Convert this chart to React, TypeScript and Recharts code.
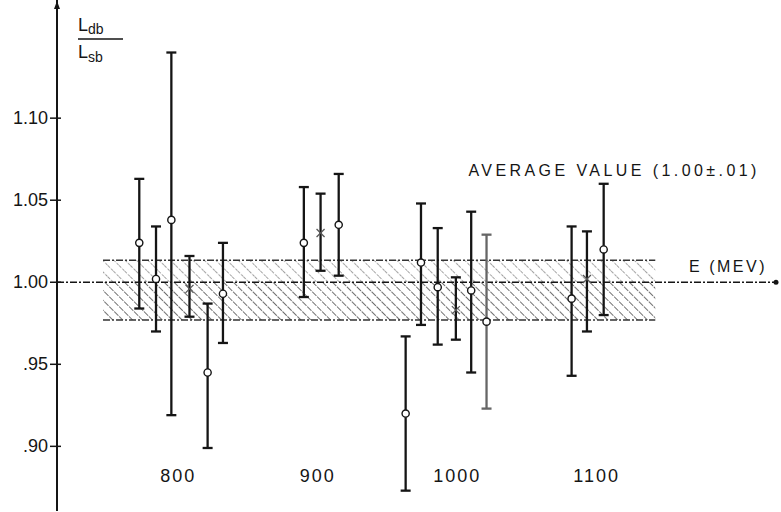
import React from 'react';
import { ComposedChart, Scatter, ErrorBar, XAxis, YAxis, ReferenceLine, ReferenceArea, ReferenceDot } from 'recharts';

// measured points: energy (MeV), ratio L_db/L_sb, error bar ends, marker type
const energies = [772, 784, 795, 808, 821, 832, 890, 902, 915, 963, 974, 986, 999, 1010, 1021, 1082, 1093, 1105];
const ratios = [1.024, 1.002, 1.038, 0.996, 0.945, 0.993, 1.024, 1.030, 1.035, 0.920, 1.012, 0.997, 0.983, 0.995, 0.976, 0.990, 1.002, 1.020];
const upperEnds = [1.063, 1.034, 1.140, 1.016, 0.987, 1.024, 1.058, 1.054, 1.066, 0.967, 1.048, 1.033, 1.003, 1.043, 1.029, 1.034, 1.031, 1.060];
const lowerEnds = [0.984, 0.970, 0.919, 0.979, 0.899, 0.963, 0.991, 1.007, 1.004, 0.873, 0.974, 0.962, 0.965, 0.945, 0.923, 0.943, 0.970, 0.980];
const markers = ['o', 'o', 'o', 'x', 'o', 'o', 'o', 'x', 'o', 'o', 'o', 'o', 'x', 'o', 'o', 'o', 'x', 'o'];
const faded = [false, false, false, false, false, false, false, false, false, false, false, false, false, false, true, false, false, false];

const xTicks = [800, 900, 1000, 1100];
const yTicks = [0.9, 0.95, 1.0, 1.05, 1.1];
const yTickLabels = ['.90', '.95', '1.00', '1.05', '1.10'];

// average band (1.00 ± .01)
const bandStart = 746;
const bandEnd = 1142;
const bandLow = 0.977;
const bandMid = 1.0;
const bandHigh = 1.0134;

const xDomain = [713, 1230];
const yDomain = [0.8606, 1.172];

const points = energies.map((e, i) => ({
  e,
  v: ratios[i],
  err: [ratios[i] - lowerEnds[i], upperEnds[i] - ratios[i]],
  mark: markers[i],
  faded: faded[i],
}));
const darkPoints = points.filter((p) => !p.faded);
const grayPoints = points.filter((p) => p.faded);

const FONT = '"Liberation Sans", Arial, sans-serif';
const INK = '#151515';

const PointMark = (props: any) => {
  const { cx, cy, payload } = props;
  if (cx == null || cy == null) return null;
  if (payload.mark === 'x') {
    return (
      <g stroke="#555" strokeWidth={1.2}>
        <line x1={cx - 4} y1={cy - 4} x2={cx + 4} y2={cy + 4} />
        <line x1={cx - 4} y1={cy + 4} x2={cx + 4} y2={cy - 4} />
      </g>
    );
  }
  return <circle cx={cx} cy={cy} r={3.6} fill="#fff" stroke={INK} strokeWidth={1.4} />;
};

const YTick = ({ x, y, payload }: any) => {
  const idx = yTicks.indexOf(payload.value);
  return (
    <g>
      <line x1={x - 7} x2={x + 4} y1={y} y2={y} stroke={INK} strokeWidth={1.5} />
      <text x={x - 9} y={y} dy={6} textAnchor="end" fontSize={18} fontFamily={FONT} fill={INK}>
        {yTickLabels[idx]}
      </text>
    </g>
  );
};

const XTick = ({ x, y, payload }: any) => (
  <text x={x} y={y - 29} textAnchor="middle" fontSize={18} letterSpacing={2} fontFamily={FONT} fill={INK}>
    {payload.value}
  </text>
);

const RatioLabel = ({ viewBox }: any) => {
  const left = viewBox.x + viewBox.width + 21;
  return (
    <g fontFamily={FONT} fill={INK}>
      <text x={left} y={31} fontSize={18}>
        L<tspan fontSize={14} dy={3}>db</tspan>
      </text>
      <line x1={left} x2={left + 45} y1={39} y2={39} stroke={INK} strokeWidth={1.5} />
      <text x={left} y={58} fontSize={18}>
        L<tspan fontSize={14} dy={4}>sb</tspan>
      </text>
    </g>
  );
};

const AxisLabel = ({ viewBox }: any) => (
  <text
    x={viewBox.x + viewBox.width - 11}
    y={viewBox.y - 10}
    textAnchor="end"
    fontSize={16}
    letterSpacing={2.5}
    fontFamily={FONT}
    fill={INK}
  >
    E (MEV)
  </text>
);

const AverageLabel = ({ viewBox }: any) => (
  <text x={viewBox.x} y={viewBox.y} fontSize={16} fontFamily={FONT} fill={INK} textLength={288} lengthAdjust="spacing">
    AVERAGE VALUE (1.00±.01)
  </text>
);

const UpArrow = ({ cx, cy }: any) => <path d={`M${cx},${cy + 1} L${cx - 3},${cy + 9} L${cx + 3},${cy + 9} Z`} fill={INK} />;
const RightArrow = ({ cx, cy }: any) => <circle cx={cx - 2} cy={cy} r={2.5} fill={INK} />;

export default function App() {
  return (
    <div style={{ position: 'absolute', left: 0, top: 0, width: 781, height: 512, background: '#fff' }}>
      <ComposedChart width={781} height={512} margin={{ top: 0, right: 3, bottom: 0, left: 0 }}>
        <defs>
          <pattern id="hatchLight" width={8} height={8} patternUnits="userSpaceOnUse" patternTransform="rotate(-45)">
            <line x1={0} y1={0} x2={0} y2={8} stroke="#555" strokeWidth={1.1} strokeDasharray="3 1.5" />
          </pattern>
          <pattern id="hatchDark" width={7} height={7} patternUnits="userSpaceOnUse" patternTransform="rotate(-45)">
            <line x1={0} y1={0} x2={0} y2={7} stroke="#222" strokeWidth={1.3} strokeDasharray="6 1" />
          </pattern>
        </defs>
        <XAxis
          dataKey="e"
          type="number"
          domain={xDomain}
          ticks={xTicks}
          allowDataOverflow
          height={1}
          axisLine={false}
          tickLine={false}
          tickSize={0}
          tickMargin={0}
          tick={<XTick />}
        />
        <YAxis
          type="number"
          domain={yDomain}
          ticks={yTicks}
          allowDataOverflow
          width={57}
          axisLine={{ stroke: INK, strokeWidth: 2 }}
          tickLine={false}
          tickSize={0}
          tickMargin={0}
          tick={<YTick />}
          label={{ content: <RatioLabel /> }}
        />
        <ReferenceArea x1={bandStart} x2={bandEnd} y1={bandMid} y2={bandHigh} fill="url(#hatchLight)" fillOpacity={1} stroke="none" />
        <ReferenceArea x1={bandStart} x2={bandEnd} y1={bandLow} y2={bandMid} fill="url(#hatchDark)" fillOpacity={1} stroke="none" />
        <ReferenceLine segment={[{ x: bandStart, y: bandHigh }, { x: bandEnd, y: bandHigh }]} stroke="#333" strokeWidth={1.3} strokeDasharray="7 2 2 2" />
        <ReferenceLine segment={[{ x: bandStart, y: bandLow }, { x: bandEnd, y: bandLow }]} stroke="#333" strokeWidth={1.3} strokeDasharray="7 2 2 2" />
        <ReferenceLine y={1.0} stroke={INK} strokeWidth={1.5} strokeDasharray="7 2 2 2" label={{ content: <AxisLabel /> }} />
        <ReferenceDot x={1008} y={1.065} r={0} fill="none" stroke="none" label={{ content: <AverageLabel /> }} />
        <ReferenceDot x={xDomain[0]} y={yDomain[1]} shape={<UpArrow />} />
        <ReferenceDot x={xDomain[1]} y={1.0} shape={<RightArrow />} />
        <Scatter data={darkPoints} dataKey="v" shape={<PointMark />} isAnimationActive={false}>
          <ErrorBar dataKey="err" direction="y" width={5} stroke={INK} strokeWidth={2.3} isAnimationActive={false} />
        </Scatter>
        <Scatter data={grayPoints} dataKey="v" shape={<PointMark />} isAnimationActive={false}>
          <ErrorBar dataKey="err" direction="y" width={5} stroke="#666" strokeWidth={2.3} isAnimationActive={false} />
        </Scatter>
      </ComposedChart>
    </div>
  );
}
